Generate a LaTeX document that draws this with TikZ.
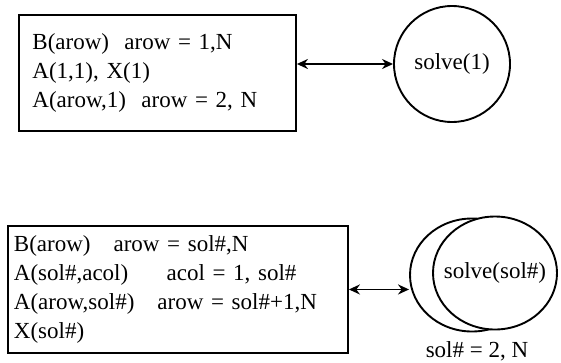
\documentclass[tikz,border=0pt]{standalone}
\usepackage{fontspec}
\setmainfont{Liberation Serif}
\usetikzlibrary{shapes.geometric,arrows.meta}

\begin{document}
\begin{tikzpicture}[x=1pt,y=1pt,line width=1.9pt,>={Stealth[length=11pt,width=10pt]},
  every node/.style={font=\fontsize{23}{29}\selectfont},
  codebox/.style={draw,rectangle,align=left,anchor=north west,inner ysep=0pt},
  solver/.style={draw,ellipse,minimum width=124,minimum height=113,inner sep=0pt}]
\useasboundingbox (0,0) rectangle (561,-362);
\node[codebox,minimum width=277,minimum height=116,text width=250,inner xsep=13] (top) at (18,-14)
  {B(arow)~ arow = 1,N\\A(1,1), X(1)\\A(arow,1)~ arow = 2, N};
\node[draw,circle,minimum size=116,inner sep=0pt] (one) at (452,-64) {\makebox[0pt]{solve(1)}};
\draw[<->] (top.east |- one.west) -- (one.west);
\node[codebox,minimum width=340,minimum height=127,text width=328,inner xsep=6] (bot) at (7,-225)
  {B(arow)\quad arow = sol\#,N\\A(sol\#,acol)\quad~ acol = 1, sol\#\\A(arow,sol\#)\quad arow = sol\#+1,N\\X(sol\#)};
\node[solver] (back) at (472,-275) {};
\node[solver,fill=white] (front) at (495,-273) {\makebox[0pt]{solve(sol\#)}};
\draw[<->] (bot.east) -- (back.west |- bot.east);
\node (cnt) at (477,-351) {sol\# = 2, N};
\end{tikzpicture}
\end{document}
